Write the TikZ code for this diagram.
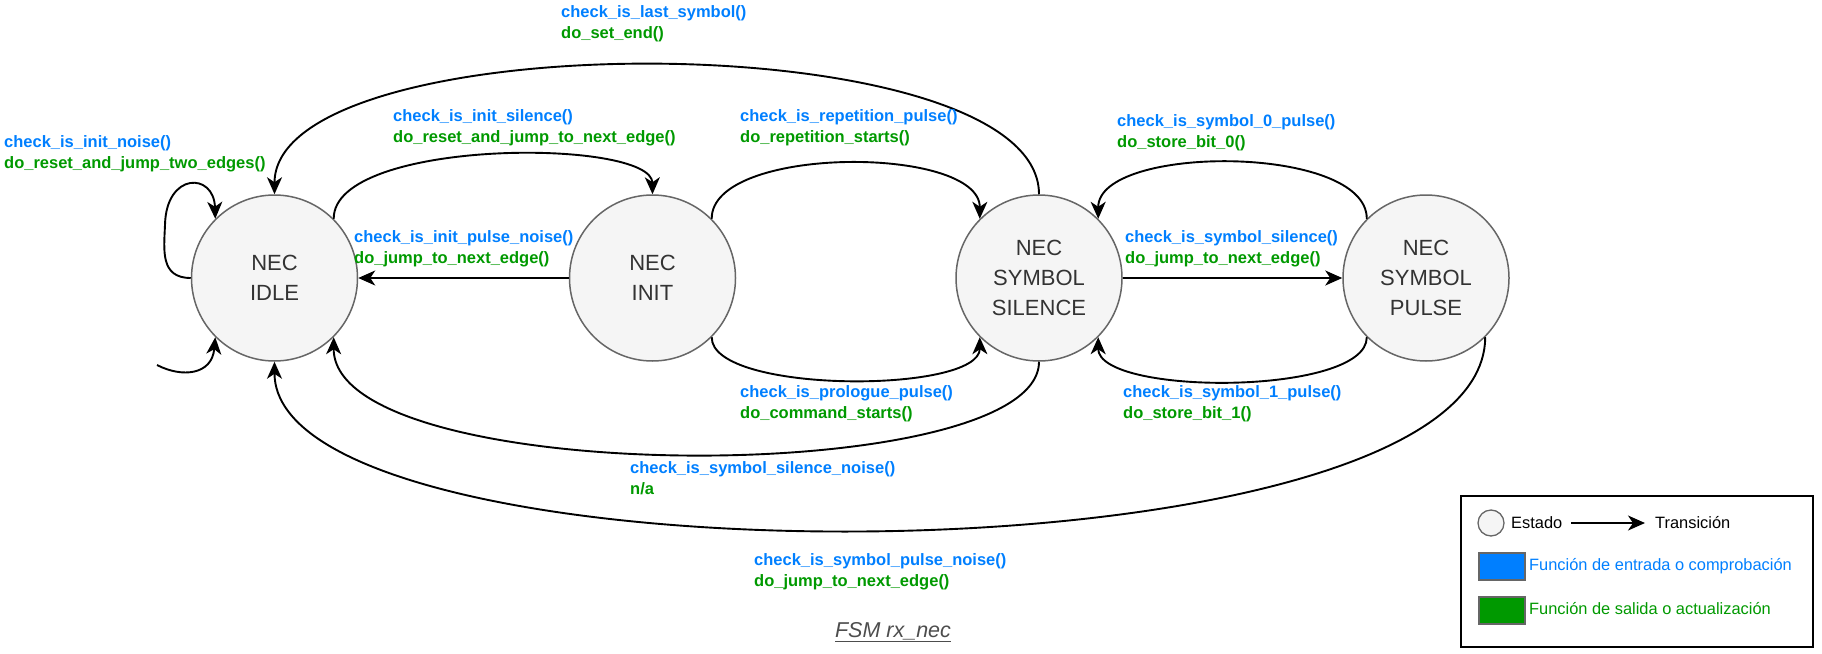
\documentclass[tikz,border=0pt]{standalone}
\usepackage{fontspec}
\setmainfont{Liberation Sans}
\usetikzlibrary{arrows.meta}
\definecolor{azul}{HTML}{007FFF}
\definecolor{verde}{HTML}{009900}
\definecolor{relleno}{HTML}{F5F5F5}
\definecolor{borde}{HTML}{666666}
\definecolor{texto}{HTML}{333333}
\definecolor{titulo}{HTML}{4D4D4D}

\newcommand{\etiqueta}[2]{\textcolor{azul}{#1}\\\textcolor{verde}{#2}}

\begin{document}
\begin{tikzpicture}[x=1pt,y=-1pt,
  estado/.style={circle, draw=borde, line width=1.5pt, fill=relleno, minimum size=166pt,
    inner sep=0pt, align=center, text=texto, font=\fontsize{22}{30}\selectfont},
  trans/.style={-{Stealth[length=17pt,width=15pt,inset=5pt]}, line width=1.9pt},
  etiq/.style={anchor=west, align=left, inner sep=0pt, font=\fontsize{16.5}{21}\selectfont\bfseries},
  leyenda/.style={anchor=west, inner sep=0pt, font=\fontsize{16.4}{20}\selectfont},
  caja/.style={draw=borde, line width=1.5pt, minimum width=46pt, minimum height=27pt,
    inner sep=0pt, anchor=north west}]

\useasboundingbox (0,0) rectangle (1822,653);

% estados
\node[estado] (idle) at (274.5,278) {NEC\\IDLE};
\node[estado] (init) at (652.5,278) {NEC\\INIT};
\node[estado] (silencio) at (1039,278) {NEC\\SYMBOL\\SILENCE};
\node[estado] (pulso) at (1426,278) {NEC\\SYMBOL\\PULSE};

% transiciones
\coordinate (inicio) at (157,365);
\draw[trans] (inicio) .. controls (182,378) and (212,375) .. (idle.225);
\draw[trans] (idle.west) .. controls (160,278) and (164,250) .. (165,225)
  .. controls (166,172) and (214,172) .. (idle.135);
\draw[trans] (init) -- (idle);
\draw[trans] (idle.45) .. controls (333,138) and (652,138) .. (init.north);
\draw[trans] (init.45) .. controls (711,145) and (980,145) .. (silencio.135);
\draw[trans] (init.-45) .. controls (711,394) and (980,394) .. (silencio.-135);
\draw[trans] (silencio.south) .. controls (1039,489) and (333,489) .. (idle.-45);
\draw[trans] (silencio.north) .. controls (1039,22) and (274.5,22) .. (idle.north);
\draw[trans] (silencio) -- (pulso);
\draw[trans] (pulso.135) .. controls (1367,144) and (1098,144) .. (silencio.45);
\draw[trans] (pulso.-135) .. controls (1367,396) and (1098,396) .. (silencio.-45);
\draw[trans] (pulso.-45) .. controls (1484,590) and (274.5,590) .. (idle.south);

% funciones
\node[etiq] (f_last) at (561,24) {\etiqueta{check\_is\_last\_symbol()}{do\_set\_end()}};
\node[etiq] (f_isil) at (393,128) {\etiqueta{check\_is\_init\_silence()}{do\_reset\_and\_jump\_to\_next\_edge()}};
\node[etiq] (f_rep) at (740,128) {\etiqueta{check\_is\_repetition\_pulse()}{do\_repetition\_starts()}};
\node[etiq] (f_inoise) at (4,154) {\etiqueta{check\_is\_init\_noise()}{do\_reset\_and\_jump\_two\_edges()}};
\node[etiq] (f_ipnoise) at (354,249) {\etiqueta{check\_is\_init\_pulse\_noise()}{do\_jump\_to\_next\_edge()}};
\node[etiq] (f_s0) at (1117,133) {\etiqueta{check\_is\_symbol\_0\_pulse()}{do\_store\_bit\_0()}};
\node[etiq] (f_ssil) at (1125,249) {\etiqueta{check\_is\_symbol\_silence()}{do\_jump\_to\_next\_edge()}};
\node[etiq] (f_prol) at (740,404) {\etiqueta{check\_is\_prologue\_pulse()}{do\_command\_starts()}};
\node[etiq] (f_s1) at (1123,404) {\etiqueta{check\_is\_symbol\_1\_pulse()}{do\_store\_bit\_1()}};
\node[etiq] (f_ssnoise) at (630,478.5) {\etiqueta{check\_is\_symbol\_silence\_noise()}{n/a}};
\node[etiq] (f_spnoise) at (754,572) {\etiqueta{check\_is\_symbol\_pulse\_noise()}{do\_jump\_to\_next\_edge()}};

\node[text=titulo, font=\fontsize{21.5}{24}\selectfont\itshape, inner sep=0pt] (titulo) at (893,632) {\underline{FSM rx\_nec}};

% leyenda
\draw[line width=1.5pt] (1461,496) rectangle (1813,647);
\node[circle, draw=borde, fill=relleno, line width=1.3pt, minimum size=26pt, inner sep=0pt] (l_estado) at (1491,523) {};
\node[leyenda] (t_estado) at (1511,523) {Estado};
\coordinate (l_ini) at (1571,523);
\coordinate (l_fin) at (1645,523);
\draw[trans] (l_ini) -- (l_fin);
\node[leyenda] (t_trans) at (1655,523) {Transición};
\node[caja, fill=azul] (l_azul) at (1478,552) {};
\node[leyenda, text=azul] (t_azul) at (1529,566) {Función de entrada o comprobación};
\node[caja, fill=verde] (l_verde) at (1478,596) {};
\node[leyenda, text=verde] (t_verde) at (1529,609) {Función de salida o actualización};

\end{tikzpicture}
\end{document}
